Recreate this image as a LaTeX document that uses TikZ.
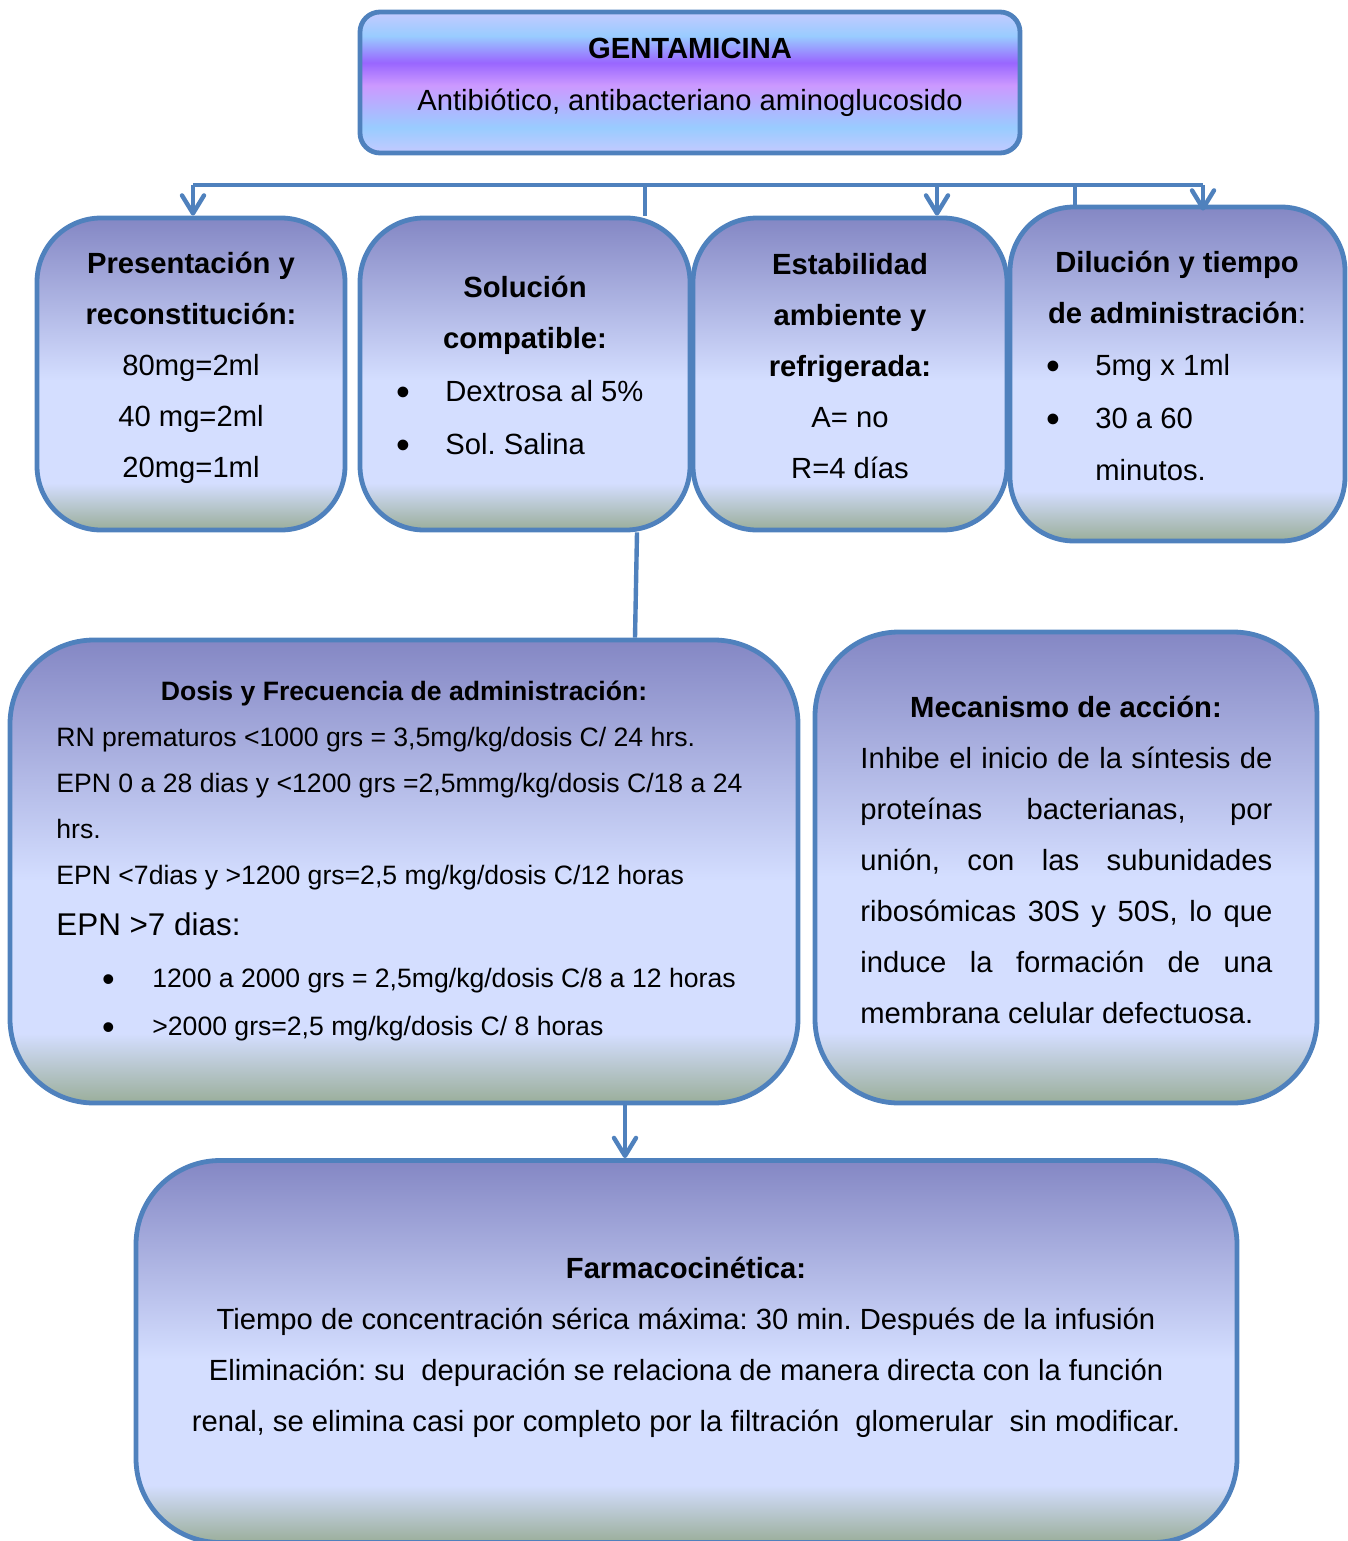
\documentclass[tikz,border=0pt]{standalone}
\usepackage{fontspec}
\usepackage{graphicx}
\setmainfont{Liberation Sans}
\usetikzlibrary{arrows.meta,positioning}
\frenchspacing

\definecolor{frame}{HTML}{4F81BD}
\definecolor{cardtop}{HTML}{8487C4}
\definecolor{cardlight}{HTML}{D4DEFF}
\definecolor{cardbot}{HTML}{9AAE9A}
\definecolor{tlav}{HTML}{C4CAFF}
\definecolor{tsky}{HTML}{99CCFF}
\definecolor{tviolet}{HTML}{9966FF}
\definecolor{tlilac}{HTML}{CC99FF}

\pgfdeclareverticalshading{cardshade}{100bp}{color(0bp)=(cardbot); color(25bp)=(cardbot); color(32.5bp)=(cardlight); color(49bp)=(cardlight); color(75bp)=(cardtop); color(100bp)=(cardtop)}
\pgfdeclareverticalshading{titleshade}{100bp}{color(0bp)=(tlav); color(25bp)=(tlav); color(34bp)=(tsky); color(49bp)=(tlilac); color(57bp)=(tviolet); color(66.5bp)=(tsky); color(75bp)=(tlav); color(100bp)=(tlav)}

\newcommand{\bul}[1]{\llap{\raisebox{-0.15em}{\scalebox{1.35}{\textbullet}}\hspace{#1}}}
\newcommand{\jline}[1]{\makebox[206pt][s]{#1}}

\begin{document}
\begin{tikzpicture}[x=0.5pt, y=-0.5pt, >={Straight Barb[length=9pt,width=11pt,round]},
    card/.style={draw=frame, line width=2.4pt, shading=cardshade, rounded corners=32pt},
    bigcard/.style={card, rounded corners=42pt},
    link/.style={draw=frame, line width=2.2pt},
    body/.style={font=\fontsize{14.6pt}{25.5pt}\selectfont, inner sep=0pt},
    small/.style={font=\fontsize{13.3pt}{23pt}\selectfont, inner sep=0pt}]
    \useasboundingbox (0,0) rectangle (1348,1541);

    % boxes
    \node[draw=frame, line width=2.4pt, shading=titleshade, rounded corners=10pt,
          minimum width=330pt, minimum height=70.5pt] (gentabox) at (690,82.5) {};
    \node[card, minimum width=154pt, minimum height=156pt]   (presbox)  at (191,374)    {};
    \node[card, minimum width=165pt, minimum height=156pt]   (solbox)   at (525,374)    {};
    \node[card, minimum width=157pt, minimum height=156pt]   (estbox)   at (850,374)    {};
    \node[card, minimum width=167.5pt, minimum height=167pt] (dilbox)   at (1177.5,374) {};
    \node[bigcard, minimum width=394pt, minimum height=231.5pt] (dosisbox) at (404,871.5)  {};
    \node[bigcard, minimum width=251pt, minimum height=235.5pt] (mecabox)  at (1066,867.5) {};
    \node[bigcard, minimum width=550.5pt, minimum height=191pt] (farmabox) at (686.5,1351.5) {};

    % texts (anchored on the baseline of their last line)
    \node[body, anchor=base, align=center] (gentatext) at (690,111)
        {\textbf{GENTAMICINA}\\[0.75pt]Antibiótico, antibacteriano aminoglucosido};
    \node[body, anchor=base, align=center] (prestext) at (191,477.5)
        {\textbf{Presentación y}\\\textbf{reconstitución:}\\80mg=2ml\\40 mg=2ml\\20mg=1ml};
    \node[body, anchor=base, align=center] (soltext) at (525,348)
        {\textbf{Solución}\\\textbf{compatible:}};
    \node[body, anchor=base west, align=left] (sollist) at (445,454)
        {\bul{17.8pt}Dextrosa al 5\%\\[1pt]\bul{17.8pt}Sol. Salina};
    \node[body, anchor=base, align=center] (esttext) at (850,478)
        {\textbf{Estabilidad}\\\textbf{ambiente y}\\\textbf{refrigerada:}\\A= no\\R=4 días};
    \node[body, anchor=base, align=center] (diltext) at (1177,323)
        {\textbf{Dilución y tiempo}\\\textbf{de administración}:};
    \node[body, anchor=base west, align=left] (dillist) at (1095,480)
        {\bul{17.8pt}5mg x 1ml\\[1pt]\bul{17.8pt}30 a 60\\[0.5pt]minutos.};

    \node[small, anchor=base] (dosistext) at (404,700.5)
        {\textbf{Dosis y Frecuencia de administración:}};
    \node[small, anchor=base west, align=left] (dosislines) at (56,884)
        {RN prematuros <1000 grs = 3,5mg/kg/dosis C/ 24 hrs.\\
         EPN 0 a 28 dias y <1200 grs =2,5mmg/kg/dosis C/18 a 24\\
         hrs.\\
         EPN <7dias y >1200 grs=2,5 mg/kg/dosis C/12 horas};
    \node[anchor=base west, inner sep=0pt, font=\fontsize{15.7pt}{19pt}\selectfont] (epntext) at (56,935)
        {EPN >7 dias:};
    \node[small, anchor=base west, align=left] (dosislist) at (152,1035)
        {\bul{18.9pt}1200 a 2000 grs = 2,5mg/kg/dosis C/8 a 12 horas\\[1pt]
         \bul{18.9pt}>2000 grs=2,5 mg/kg/dosis C/ 8 horas};

    \node[body, anchor=base] (mecatext) at (1066,717) {\textbf{Mecanismo de acción:}};
    \node[body, anchor=base west, align=left] (mecapar) at (860,1023)
        {\jline{Inhibe el inicio de la síntesis de}\\
         \jline{proteínas bacterianas, por}\\
         \jline{unión, con las subunidades}\\
         \jline{ribosómicas 30S y 50S, lo que}\\
         \jline{induce la formación de una}\\
         membrana celular defectuosa.};

    \node[body, anchor=base, align=center] (farmatext) at (686,1431)
        {\textbf{Farmacocinética:}\\
         Tiempo de concentración sérica máxima: 30 min. Después de la infusión\\
         Eliminación: su\ \ depuración se relaciona de manera directa con la función\\
         renal, se elimina casi por completo por la filtración\ \ glomerular\ \ sin modificar.};

    % connectors
    \coordinate (barL)   at (193,185);
    \coordinate (barR)   at (1203,185);
    \coordinate (tapSol) at (645,185);
    \coordinate (tapEst) at (937,185);
    \coordinate (tapDil) at (1075,185);
    \draw[link] (barL) -- (barR);
    \draw[link, ->] (barL) -- (barL |- presbox.north);
    \draw[link] (tapSol) -- (tapSol |- solbox.north);
    \draw[link, ->] (tapEst) -- (tapEst |- estbox.north);
    \draw[link] (tapDil) -- (tapDil |- dilbox.north);
    \draw[link, ->] (barR) -- ([yshift=-3pt]barR |- dilbox.north);
    \draw[link] ([xshift=56pt]solbox.south) -- ([xshift=115.5pt]dosisbox.north);
    \draw[link, ->] ([xshift=110.5pt]dosisbox.south) -- ([xshift=-30.75pt]farmabox.north);
\end{tikzpicture}
\end{document}
